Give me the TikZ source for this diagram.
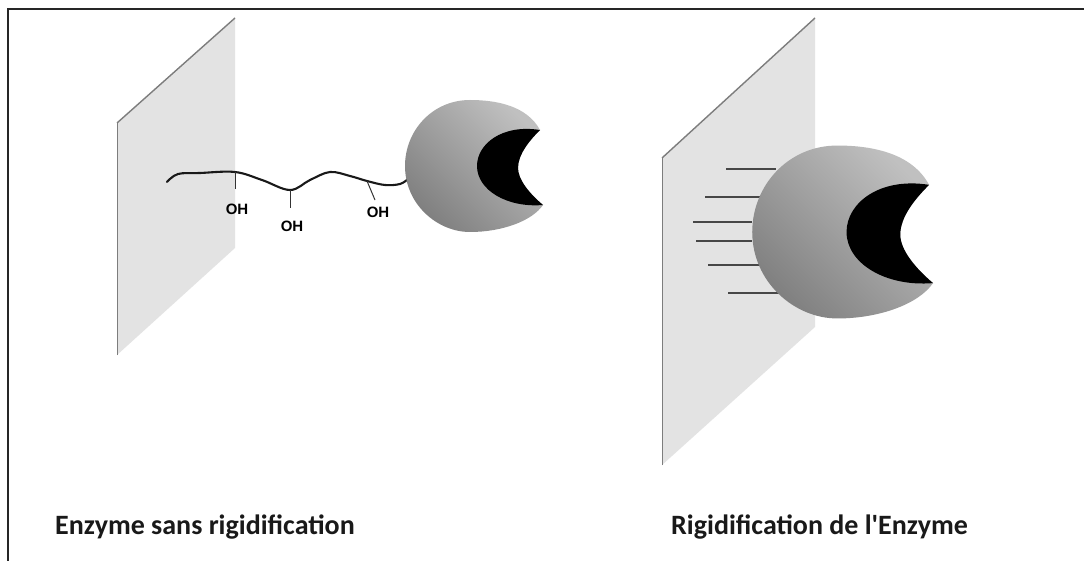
\documentclass[tikz,border=0pt]{standalone}
\usepackage{fontspec}
\setmainfont{Carlito}[Ligatures=TeXOff]
\newfontfamily\labelfont{Liberation Sans}
\usepackage{tikz}
\usetikzlibrary{positioning}

\definecolor{plateGray}{RGB}{227,227,227}
\definecolor{plateEdge}{RGB}{125,125,125}
\definecolor{enzDark}{RGB}{128,128,128}
\definecolor{enzLight}{RGB}{192,192,192}

\tikzset{
  % enzyme body with its black active site, centre at the origin
  pics/enzyme/.style={code={
    \shade[left color=enzDark, right color=enzLight, shading angle=135]
      (68,-36) .. controls (55,-60) and (25,-66) .. (-2,-66)
      .. controls (-40,-66) and (-67,-35) .. (-67,0)
      .. controls (-67,38) and (-35,66) .. (-2,66)
      .. controls (30,66) and (60,55) .. (71,39)
      .. controls (58,28) and (46,14) .. (46,2)
      .. controls (46,-12) and (58,-26) .. (68,-36) -- cycle;
    \fill[black]
      (68,-36) .. controls (30,-42) and (5,-22) .. (5,0)
      .. controls (5,24) and (35,42) .. (71,39)
      .. controls (58,28) and (46,14) .. (46,2)
      .. controls (46,-12) and (58,-26) .. (68,-36) -- cycle;
  }},
  plate/.style={fill=plateGray},
  chain/.style={line width=2.1pt, black!90, line join=round, line cap=round},
  branch/.style={line width=1pt, black!80},
  anchorline/.style={line width=1.3pt, black!72},
  ohlabel/.style={font=\labelfont\bfseries\fontsize{15}{15}\selectfont, inner sep=0pt},
  caption/.style={font=\bfseries\fontsize{28}{28}\selectfont, text=black!90, anchor=west, inner sep=0pt}
}

\begin{document}
\begin{tikzpicture}[x=1pt, y=-1pt]
  \useasboundingbox (0,0) rectangle (1084,561);
  \fill[white] (0,0) rectangle (1084,561);

  % frame
  \draw[line width=2.4pt, black!85] (1084,9) -- (8,9) -- (8,561);

  % ---- left: enzyme tethered by a flexible chain ----
  \fill[plate] (117,123) -- (235,18) -- (235,248) -- (117,355) -- cycle;
  \draw[plateEdge, line width=1pt] (117,355) -- (117,123);
  \draw[plateEdge, line width=1.4pt] (117,123) -- (235,18);

  \draw[chain] plot[smooth, tension=0.6] coordinates {(167,182) (178,174) (200,173) (235,172)
    (262,180) (290,190) (310,180) (330,172) (350,176) (367,181) (385,185) (400,184) (408,179)};
  \draw[branch] (235,172) -- (235,189);
  \draw[branch] (290,190) -- (290,208);
  \draw[branch] (367,181) -- (375,200);
  \node[ohlabel] (oh1) at (237,209) {OH};
  \node[ohlabel] (oh2) at (292,226) {OH};
  \node[ohlabel] (oh3) at (378,212) {OH};

  \pic at (472,166) {enzyme};

  % ---- right: enzyme held by several short links ----
  \fill[plate] (662,158) -- (815,18) -- (815,327) -- (662,465) -- cycle;
  \draw[plateEdge, line width=1pt] (662,465) -- (662,158);
  \draw[plateEdge, line width=1.4pt] (662,158) -- (815,18);

  \foreach \y/\xa/\xb in {169/726/776, 197/705/760, 222/693/752, 241/696/752, 265/708/760, 293/728/780} {
    \draw[anchorline] (\xa,\y) -- (\xb,\y);
  }

  \pic[scale=1.31] at (840,232) {enzyme};

  % captions
  \node[caption] (capL) at (55,527) {Enzyme sans rigidification};
  \node[caption] (capR) at (671,527) {Rigidification de l'Enzyme};
\end{tikzpicture}
\end{document}
